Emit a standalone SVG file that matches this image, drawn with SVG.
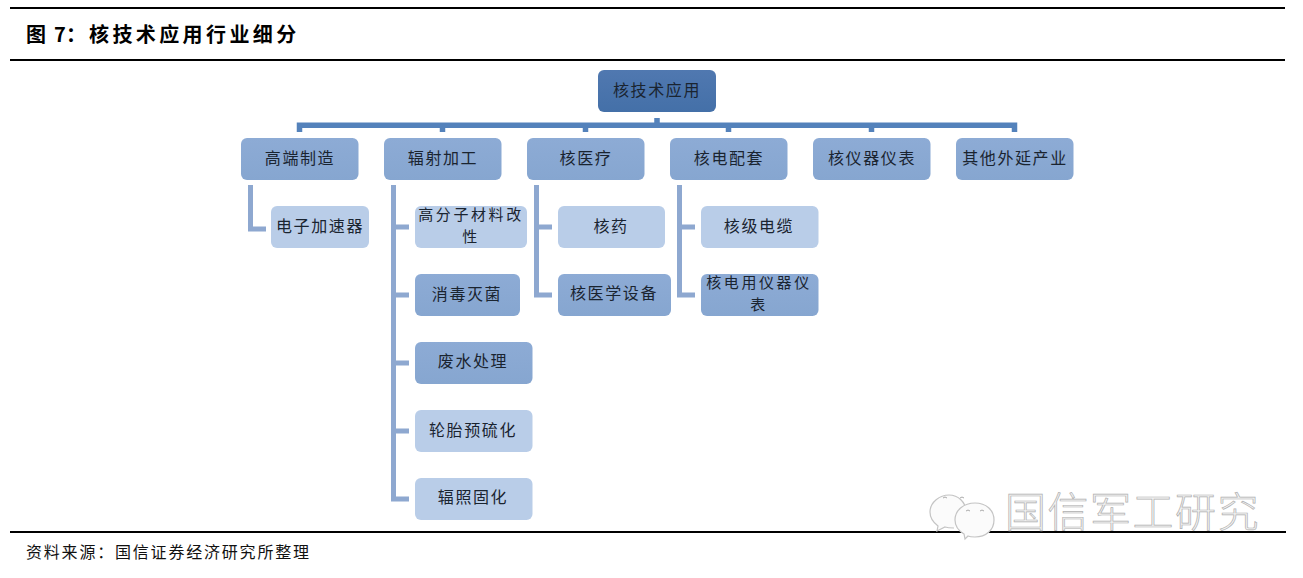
<svg xmlns="http://www.w3.org/2000/svg" width="1303" height="578" viewBox="0 0 1303 578">
<style>
text{font-family:"Noto Sans CJK SC","Noto Sans",sans-serif;text-anchor:middle;fill:#1a2430;font-size:16px;letter-spacing:1.6px}
.rule{stroke:#000;stroke-width:2;fill:none}
.root{fill:url(#gRoot)}
.mid{fill:url(#gMid)}
.lite{fill:#b9cde8}
.bus{fill:none;stroke:#5482bb;stroke-width:5.5}
.tree{fill:none;stroke:#8ea8d0;stroke-width:5}
.head{font-weight:700;font-size:20px;letter-spacing:3.4px;text-anchor:start;fill:#000}
.foot{text-anchor:start;font-size:16px;letter-spacing:1.8px;fill:#111}
.wm{font-size:41px;letter-spacing:1.5px;text-anchor:start;fill:#f3f3f3;stroke:#b0b0b0;stroke-width:.7;font-weight:300}
.bub{fill:#fbfbfb;stroke:#c4c4c4;stroke-width:1.2}
.two{font-size:15px;letter-spacing:2.6px}
</style>
<defs>
<linearGradient id="gRoot" x1="0" y1="0" x2="0" y2="1"><stop offset="0" stop-color="#5078b0"/><stop offset="1" stop-color="#4470a8"/></linearGradient>
<linearGradient id="gMid" x1="0" y1="0" x2="0" y2="1"><stop offset="0" stop-color="#8dabd5"/><stop offset="1" stop-color="#86a6d0"/></linearGradient>
</defs>
<g id="frame">
<path class="rule" d="M10 8H1285M10 60H1285M10 532H1286"/>
<text class="head" x="26" y="42">图<tspan x="54" letter-spacing="0">7</tspan><tspan x="66" letter-spacing="0">&#xFF1A;</tspan><tspan x="89">核技术应用行业细分</tspan></text>
<text class="foot" x="26" y="558">资料来源&#xFF1A;国信证券经济研究所整理</text>
</g>
<g id="watermark">
<path class="bub" d="M966 512c0-10-8-17-17-17s-19 7-19 17c0 6 4 11 8 14l-1 5 8-4c3 1 6 1 9 1"/>
<path class="bub" d="M955 520c0-10 9-17 20-17s19 7 19 17-8 17-19 17c-3 0-5 0-7-1l-3 3-1-5c-5-3-9-8-9-14z"/>
<path fill="none" stroke="#aaa" d="M943 498q2-2 4 0M960 498q2-2 4 0M966 511q2-2 4 0M980 511q2-2 4 0"/>
<text class="wm" x="1005" y="527">国信军工研究</text>
</g>
<g id="connectors">
<path class="bus" d="M657 118V125M299.500 132V125.300H1014.500V132M442.500 125V132M585.500 125V132M728.500 125V132M871.500 125V132"/>
<path class="tree" d="M250.500 185V229H266"/>
<path class="tree" d="M393.500 185V499H409M393.500 227H409M393.500 295H409M393.500 363H409M393.500 431H409"/>
<path class="tree" d="M536.500 185V295H552M536.500 227H552"/>
<path class="tree" d="M679.500 185V295H695M679.500 227H695"/>
</g>
<g id="n-root"><rect class="root" x="598" y="70" width="118" height="42" rx="6"/><text x="657" y="96">核技术应用</text></g>
<g id="n-gaoduan"><rect class="mid" x="241" y="138" width="117.500" height="42" rx="6"/><text x="300" y="164">高端制造</text></g>
<g id="n-fushe"><rect class="mid" x="384" y="138" width="117.500" height="42" rx="6"/><text x="443" y="164">辐射加工</text></g>
<g id="n-heyiliao"><rect class="mid" x="527" y="138" width="117.500" height="42" rx="6"/><text x="586" y="164">核医疗</text></g>
<g id="n-hedian"><rect class="mid" x="670" y="138" width="117.500" height="42" rx="6"/><text x="729" y="164">核电配套</text></g>
<g id="n-yiqi"><rect class="mid" x="813" y="138" width="117.500" height="42" rx="6"/><text x="872" y="164">核仪器仪表</text></g>
<g id="n-qita"><rect class="mid" x="956" y="138" width="117.500" height="42" rx="6"/><text x="1015" y="164">其他外延产业</text></g>
<g id="n-jiasu"><rect class="lite" x="271" y="206" width="98" height="42" rx="6"/><text x="320" y="232">电子加速器</text></g>
<g id="n-gaofenzi"><rect class="lite" x="415" y="206" width="112" height="42" rx="6"/><text class="two" x="471" y="220">高分子材料改</text><text class="two" x="471" y="242">性</text></g>
<g id="n-xiaodu"><rect class="mid" x="415" y="274" width="105" height="42" rx="6"/><text x="467" y="300">消毒灭菌</text></g>
<g id="n-feishui"><rect class="mid" x="415" y="342" width="117.500" height="42" rx="6"/><text x="473" y="367">废水处理</text></g>
<g id="n-luntai"><rect class="lite" x="415" y="410" width="117.500" height="42" rx="6"/><text x="473" y="436">轮胎预硫化</text></g>
<g id="n-fuzhao"><rect class="lite" x="415" y="478" width="117.500" height="42" rx="6"/><text x="473" y="503">辐照固化</text></g>
<g id="n-heyao"><rect class="lite" x="558" y="206" width="107" height="42" rx="6"/><text x="611" y="232">核药</text></g>
<g id="n-yixue"><rect class="mid" x="558" y="274" width="113" height="42" rx="6"/><text x="614" y="299">核医学设备</text></g>
<g id="n-dianlan"><rect class="lite" x="701" y="206" width="117.500" height="42" rx="6"/><text x="759" y="232">核级电缆</text></g>
<g id="n-yongyi"><rect class="mid" x="701" y="274" width="117.500" height="42" rx="6"/><text class="two" x="759" y="288">核电用仪器仪</text><text class="two" x="759" y="310">表</text></g>
</svg>
